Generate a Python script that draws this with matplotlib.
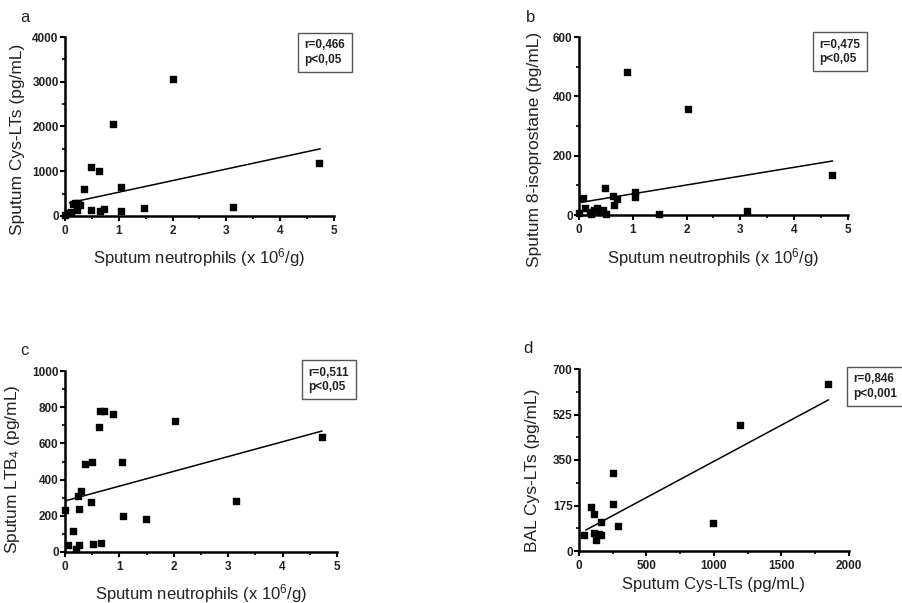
import matplotlib
matplotlib.use("Agg")
import matplotlib.pyplot as plt
from matplotlib.ticker import MultipleLocator

plt.rcParams['font.family'] = ['Liberation Sans', 'DejaVu Sans']
plt.rcParams['mathtext.fontset'] = 'custom'
plt.rcParams['mathtext.rm'] = 'Liberation Sans'
plt.rcParams['mathtext.it'] = 'Liberation Sans'

W, H = 903, 603

# panel a: sputum neutrophils vs sputum Cys-LTs
a_x = [0.0, 0.06, 0.11, 0.15, 0.19, 0.22, 0.25, 0.28, 0.35, 0.48, 0.48, 0.64, 0.65, 0.73, 0.89, 1.05, 1.05, 1.47, 2.01, 3.13, 4.72]
a_y = [20, 60, 90, 260, 283, 134, 300, 246, 600, 1090, 134, 1000, 120, 160, 2060, 640, 119, 180, 3070, 210, 1190]
a_fit_x = [0.09, 4.74]
a_fit_y = [297, 1500]

# panel b: sputum neutrophils vs sputum 8-isoprostane
b_x = [0.0, 0.08, 0.11, 0.2, 0.22, 0.27, 0.33, 0.39, 0.45, 0.48, 0.51, 0.64, 0.65, 0.70, 0.89, 1.04, 1.04, 1.49, 2.02, 3.13, 4.71]
b_y = [6, 56, 22, 9, 5, 17, 25, 12, 17, 90, 5, 64, 34, 53, 481, 79, 62, 2, 356, 15, 135]
b_fit_x = [0.05, 4.71]
b_fit_y = [43, 182]

# panel c: sputum neutrophils vs sputum LTB4
c_x = [0.0, 0.06, 0.14, 0.21, 0.23, 0.25, 0.26, 0.29, 0.36, 0.47, 0.50, 0.52, 0.63, 0.65, 0.66, 0.72, 0.89, 1.05, 1.07, 1.48, 2.03, 3.14, 4.72]
c_y = [232, 39, 116, 15, 311, 39, 236, 339, 484, 278, 495, 42, 689, 780, 48, 780, 761, 495, 201, 182, 725, 282, 634]
c_fit_x = [0.01, 4.72]
c_fit_y = [283, 668]

# panel d: sputum Cys-LTs vs BAL Cys-LTs
d_x = [40, 86, 111, 111, 126, 145, 160, 160, 254, 254, 286, 995, 1193, 1847]
d_y = [62, 168, 142, 68, 42, 66, 110, 62, 301, 180, 96, 106, 485, 642]
d_fit_x = [52, 1847]
d_fit_y = [81, 581]

xlab_neut = 'Sputum neutrophils (x 10$^6$/g)'

# pixel layout: axes box (left, top, right, bottom), letter, stat box corner
panels = [
    dict(px=(65, 37, 334, 216), x=a_x, y=a_y, fx=a_fit_x, fy=a_fit_y,
         xlim=(0, 5), ylim=(0, 4000), xmaj=1, xmin=0.5, ymaj=1000, ymin=500,
         xlabel=xlab_neut, ylabel='Sputum Cys-LTs (pg/mL)', letter='a',
         letter_px=(20, 22), stat='r=0,466\np<0,05', box_px=(298, 33),
         ylab=(-0.149, 0.43), xlab=(0.5, -0.17)),
    dict(px=(579, 37, 848, 215), x=b_x, y=b_y, fx=b_fit_x, fy=b_fit_y,
         xlim=(0, 5), ylim=(0, 600), xmaj=1, xmin=0.5, ymaj=200, ymin=100,
         xlabel=xlab_neut, ylabel='Sputum 8-isoprostane (pg/mL)', letter='b',
         letter_px=(526, 22), stat='r=0,475\np<0,05', box_px=(813, 32),
         ylab=(-0.138, 0.37), xlab=(0.5, -0.175)),
    dict(px=(65, 371, 337, 552), x=c_x, y=c_y, fx=c_fit_x, fy=c_fit_y,
         xlim=(0, 5), ylim=(0, 1000), xmaj=1, xmin=0.5, ymaj=200, ymin=100,
         xlabel=xlab_neut, ylabel='Sputum LTB$_4$ (pg/mL)', letter='c',
         letter_px=(20, 355), stat='r=0,511\np<0,05', box_px=(302, 360),
         ylab=(-0.158, 0.46), xlab=(0.5, -0.165)),
    dict(px=(579, 369, 849, 551), x=d_x, y=d_y, fx=d_fit_x, fy=d_fit_y,
         xlim=(0, 2000), ylim=(0, 700), xmaj=500, xmin=250, ymaj=175, ymin=87.5,
         xlabel='Sputum Cys-LTs (pg/mL)', ylabel='BAL Cys-LTs (pg/mL)', letter='d',
         letter_px=(523, 353), stat='r=0,846\np<0,001', box_px=(847, 367),
         ylab=(-0.144, 0.445), xlab=(0.5, -0.145)),
]

fig = plt.figure(figsize=(W / 100, H / 100), dpi=100)
pad_px = 6.5

for p in panels:
    l, t, r, b = p['px']
    ax = fig.add_axes([l / W, 1 - b / H, (r - l) / W, (b - t) / H])
    ax.scatter(p['x'], p['y'], marker='s', s=24, color='black', zorder=3, clip_on=False)
    ax.plot(p['fx'], p['fy'], color='black', lw=1.1)
    ax.set_xlim(p['xlim'])
    ax.set_ylim(p['ylim'])
    ax.xaxis.set_major_locator(MultipleLocator(p['xmaj']))
    ax.xaxis.set_minor_locator(MultipleLocator(p['xmin']))
    ax.yaxis.set_major_locator(MultipleLocator(p['ymaj']))
    ax.yaxis.set_minor_locator(MultipleLocator(p['ymin']))
    for side in ['top', 'right']:
        ax.spines[side].set_visible(False)
    for side in ['left', 'bottom']:
        ax.spines[side].set_linewidth(1.8)
    ax.tick_params(which='major', direction='out', length=3.5, width=1.5, labelsize=8.5,
                   labelcolor='#222222')
    ax.tick_params(which='minor', direction='out', length=2.5, width=1.2)
    ax.tick_params(axis='x', which='major', pad=3)
    ax.tick_params(axis='y', which='major', pad=1)
    for lab in ax.get_xticklabels() + ax.get_yticklabels():
        lab.set_fontweight('bold')
    ax.set_xlabel(p['xlabel'], fontsize=12, color='#222222')
    ax.set_ylabel(p['ylabel'], fontsize=12.5, color='#222222')
    ax.xaxis.set_label_coords(*p['xlab'])
    ax.yaxis.set_label_coords(*p['ylab'])
    fig.text(p['letter_px'][0] / W, 1 - p['letter_px'][1] / H, p['letter'],
             fontsize=12, va='baseline', ha='left', color='#222222')
    bx, by = p['box_px']
    fig.text((bx + pad_px) / W, 1 - (by + pad_px) / H, p['stat'], ha='left', va='top',
             fontsize=8.5, fontweight='bold', linespacing=1.25, color='#222222',
             bbox=dict(boxstyle='square,pad=0.55', fc='white', ec='#555555', lw=1))

fig.savefig('out.png', dpi=100)
